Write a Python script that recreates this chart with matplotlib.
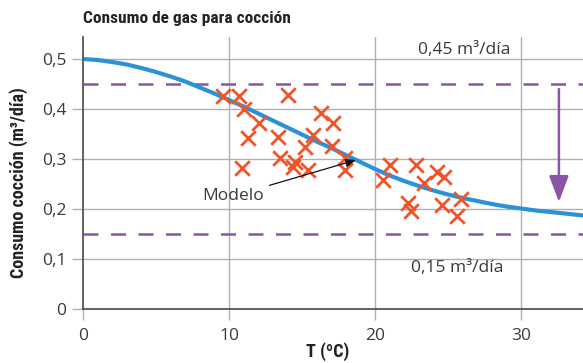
import matplotlib
matplotlib.use("Agg")
import matplotlib.pyplot as plt

# Model curve
model_t = [0, 1, 2, 3, 4, 5, 6, 7, 8, 9, 10, 11, 12, 13, 14, 15, 16, 17, 18,
           19, 20, 21, 22, 23, 24, 25, 26, 27, 28, 29, 30, 31, 32, 33, 34.3]
model_c = [0.500, 0.498, 0.494, 0.489, 0.482, 0.474, 0.465, 0.455, 0.443, 0.431,
           0.418, 0.405, 0.391, 0.377, 0.363, 0.349, 0.335, 0.322, 0.308, 0.294,
           0.280, 0.267, 0.256, 0.246, 0.237, 0.229, 0.222, 0.216, 0.210, 0.205,
           0.201, 0.197, 0.194, 0.191, 0.187]

# Observations
obs_t = [9.57, 10.68, 11.03, 12.05, 11.30, 10.89, 14.04, 13.36, 13.49, 14.52,
         14.38, 15.41, 15.21, 15.75, 16.30, 17.12, 17.05, 17.95, 17.95,
         21.03, 20.55, 22.81, 23.36, 24.25, 24.73, 22.26, 22.47, 24.59, 25.89, 25.62]
obs_c = [0.426, 0.426, 0.400, 0.372, 0.342, 0.282, 0.428, 0.344, 0.302, 0.294,
         0.284, 0.278, 0.324, 0.348, 0.392, 0.372, 0.326, 0.302, 0.278,
         0.288, 0.258, 0.288, 0.252, 0.274, 0.264, 0.212, 0.196, 0.208, 0.220, 0.186]

limits = [0.45, 0.15]
limit_labels = ["0,45 m³/día", "0,15 m³/día"]
xticks = [0, 10, 20, 30]
yticks = [0, 0.1, 0.2, 0.3, 0.4, 0.5]
ytick_labels = ["0", "0,1", "0,2", "0,3", "0,4", "0,5"]

plt.rcParams['font.family'] = ['Open Sans', 'DejaVu Sans']
txt = "#3a3a3a"
grid = "#b0b0b0"
purple = "#8a55a8"
blue = "#2a93d5"
orange = "#f0542a"

fig = plt.figure(figsize=(5.83, 3.63), dpi=100)
ax = fig.add_axes([83/583, 1 - 309/363, 1 - 83/583, (309 - 37)/363])
ax.set_xlim(0, 34.25)
ax.set_ylim(0, 0.544)

ax.set_xticks(xticks)
ax.set_xticklabels([str(v) for v in xticks])
ax.set_yticks(yticks)
ax.set_yticklabels(ytick_labels)
ax.tick_params(axis='both', length=8, width=1, color=grid, labelsize=12.5,
               labelcolor=txt, pad=4)
ax.tick_params(axis='x', pad=6)
for v in xticks[1:]:
    ax.axvline(v, color=grid, lw=1, zorder=0)
for v in yticks[1:]:
    ax.axhline(v, color=grid, lw=1, zorder=0)
for s in ['top', 'right']:
    ax.spines[s].set_visible(False)
for s in ['left', 'bottom']:
    ax.spines[s].set_color("#555555")
    ax.spines[s].set_linewidth(1.3)

for y in limits:
    ax.axhline(y, color=purple, lw=1.8, dashes=(6, 5), zorder=1)

ax.plot(model_t, model_c, color=blue, lw=3, zorder=2, solid_capstyle='round',
        solid_joinstyle='round')
ax.scatter(obs_t, obs_c, marker='x', s=110, linewidths=2, color=orange, zorder=3)

ax.annotate("", xy=(32.6, 0.214), xytext=(32.6, 0.44),
            arrowprops=dict(arrowstyle='-|>,head_length=1.6,head_width=0.6',
                            color=purple, lw=1.8, shrinkA=0, shrinkB=0), zorder=4)

ax.annotate("Modelo", xy=(18.7, 0.298), xytext=(12.4, 0.226),
            ha='right', va='center', fontsize=12.5, color=txt,
            arrowprops=dict(arrowstyle='-|>,head_length=0.5,head_width=0.2',
                            color='#111111', lw=0.9, shrinkA=2, shrinkB=0))

ax.text(26.1, 0.518, limit_labels[0], ha='center', va='center', fontsize=12.5, color=txt)
ax.text(25.6, 0.082, limit_labels[1], ha='center', va='center', fontsize=12.5, color=txt)

cond = ['Roboto Condensed', 'Roboto', 'DejaVu Sans']
fig.text(83/583, 1 - 19/363, "Consumo de gas para cocción", family=cond,
         fontweight='bold', fontsize=12.5, color="#222222", ha='left', va='center')
fig.text(19/583, 1 - 183/363, "Consumo cocción (m³/día)", family=cond,
         fontweight='bold', fontsize=13, color="#222222", rotation=90,
         ha='center', va='center')
fig.text(328/583, 1 - 352/363, "T (ºC)", family=cond, fontweight='bold',
         fontsize=13, color="#222222", ha='center', va='center')

fig.savefig("out.png", dpi=100)
